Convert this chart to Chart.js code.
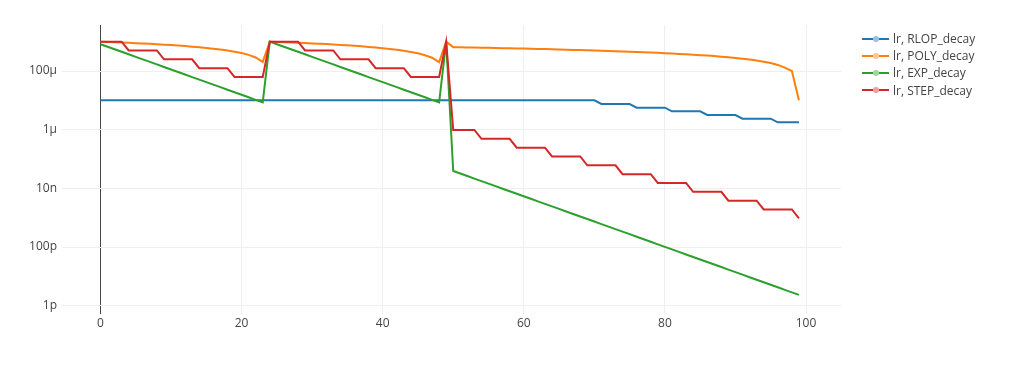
<!DOCTYPE html>
<html>
<head>
<meta charset="utf-8">
<title>Learning rate schedules</title>
<script src="https://cdn.jsdelivr.net/npm/chart.js@4.4.1/dist/chart.umd.min.js"></script>
<style>
  html, body { margin: 0; padding: 0; background: #fff; }
  #wrap { position: relative; width: 1024px; height: 368px; }
  #legend { position: absolute; left: 0; top: 0; font: 12px "Open Sans", sans-serif; color: #444; }
  .legend-item { position: absolute; left: 862px; height: 17px; line-height: 17px; white-space: nowrap; }
  .legend-line { position: absolute; left: 0; top: 7.5px; width: 27px; height: 2px; }
  .legend-dot { position: absolute; left: 10.5px; top: 5.5px; width: 6px; height: 6px; border-radius: 50%; background: #fff; }
  .legend-dot span { display: block; width: 6px; height: 6px; border-radius: 50%; opacity: 0.45; }
  .legend-text { position: absolute; left: 31px; top: 0; }
</style>
</head>
<body>
<div id="wrap">
  <canvas id="lr-chart" width="1024" height="368"></canvas>
  <div id="legend"></div>
</div>
<script>
// Training steps (x axis)
const steps = [
  0, 1, 2, 3, 4, 5, 6, 7, 8, 9,
  10, 11, 12, 13, 14, 15, 16, 17, 18, 19,
  20, 21, 22, 23, 24, 25, 26, 27, 28, 29,
  30, 31, 32, 33, 34, 35, 36, 37, 38, 39,
  40, 41, 42, 43, 44, 45, 46, 47, 48, 49,
  50, 51, 52, 53, 54, 55, 56, 57, 58, 59,
  60, 61, 62, 63, 64, 65, 66, 67, 68, 69,
  70, 71, 72, 73, 74, 75, 76, 77, 78, 79,
  80, 81, 82, 83, 84, 85, 86, 87, 88, 89,
  90, 91, 92, 93, 94, 95, 96, 97, 98, 99,
];

// Learning rate, one value per step
const rlopDecay = [
  1e-5, 1e-5, 1e-5, 1e-5, 1e-5, 1e-5, 1e-5, 1e-5, 1e-5, 1e-5,
  1e-5, 1e-5, 1e-5, 1e-5, 1e-5, 1e-5, 1e-5, 1e-5, 1e-5, 1e-5,
  1e-5, 1e-5, 1e-5, 1e-5, 1e-5, 1e-5, 1e-5, 1e-5, 1e-5, 1e-5,
  1e-5, 1e-5, 1e-5, 1e-5, 1e-5, 1e-5, 1e-5, 1e-5, 1e-5, 1e-5,
  1e-5, 1e-5, 1e-5, 1e-5, 1e-5, 1e-5, 1e-5, 1e-5, 1e-5, 1e-5,
  1e-5, 1e-5, 1e-5, 1e-5, 1e-5, 1e-5, 1e-5, 1e-5, 1e-5, 1e-5,
  1e-5, 1e-5, 1e-5, 1e-5, 1e-5, 1e-5, 1e-5, 1e-5, 1e-5, 1e-5,
  1e-5, 7.5e-6, 7.5e-6, 7.5e-6, 7.5e-6, 7.5e-6, 5.63e-6, 5.63e-6, 5.63e-6, 5.63e-6,
  5.63e-6, 4.22e-6, 4.22e-6, 4.22e-6, 4.22e-6, 4.22e-6, 3.16e-6, 3.16e-6, 3.16e-6, 3.16e-6,
  3.16e-6, 2.37e-6, 2.37e-6, 2.37e-6, 2.37e-6, 2.37e-6, 1.78e-6, 1.78e-6, 1.78e-6, 1.78e-6,
];

const polyDecay = [
  1.0e-3, 9.79e-4, 9.57e-4, 9.35e-4, 9.13e-4, 8.90e-4, 8.66e-4, 8.42e-4, 8.16e-4, 7.91e-4,
  7.64e-4, 7.36e-4, 7.07e-4, 6.77e-4, 6.45e-4, 6.12e-4, 5.77e-4, 5.40e-4, 5.00e-4, 4.56e-4,
  4.08e-4, 3.54e-4, 2.89e-4, 2.04e-4, 1.0e-3, 9.80e-4, 9.59e-4, 9.38e-4, 9.17e-4, 8.94e-4,
  8.72e-4, 8.49e-4, 8.25e-4, 8.00e-4, 7.75e-4, 7.48e-4, 7.21e-4, 6.93e-4, 6.63e-4, 6.32e-4,
  6.00e-4, 5.66e-4, 5.29e-4, 4.90e-4, 4.47e-4, 4.00e-4, 3.46e-4, 2.83e-4, 2.00e-4, 1.0e-3,
  6.50e-4, 6.43e-4, 6.37e-4, 6.30e-4, 6.23e-4, 6.16e-4, 6.09e-4, 6.02e-4, 5.95e-4, 5.87e-4,
  5.80e-4, 5.72e-4, 5.65e-4, 5.57e-4, 5.49e-4, 5.41e-4, 5.33e-4, 5.25e-4, 5.17e-4, 5.09e-4,
  5.00e-4, 4.91e-4, 4.82e-4, 4.73e-4, 4.64e-4, 4.55e-4, 4.45e-4, 4.36e-4, 4.26e-4, 4.15e-4,
  4.05e-4, 3.94e-4, 3.83e-4, 3.71e-4, 3.60e-4, 3.47e-4, 3.35e-4, 3.22e-4, 3.08e-4, 2.94e-4,
  2.79e-4, 2.63e-4, 2.46e-4, 2.27e-4, 2.08e-4, 1.86e-4, 1.61e-4, 1.31e-4, 1.0e-4, 1.0e-5,
];

const expDecay = [
  8.20e-4, 6.72e-4, 5.51e-4, 4.52e-4, 3.71e-4, 3.04e-4, 2.49e-4, 2.04e-4, 1.68e-4, 1.37e-4,
  1.13e-4, 9.24e-5, 7.58e-5, 6.21e-5, 5.10e-5, 4.18e-5, 3.43e-5, 2.81e-5, 2.30e-5, 1.89e-5,
  1.55e-5, 1.27e-5, 1.04e-5, 8.54e-6, 1.0e-3, 8.20e-4, 6.72e-4, 5.51e-4, 4.52e-4, 3.71e-4,
  3.04e-4, 2.49e-4, 2.04e-4, 1.68e-4, 1.37e-4, 1.13e-4, 9.24e-5, 7.58e-5, 6.21e-5, 5.10e-5,
  4.18e-5, 3.43e-5, 2.81e-5, 2.30e-5, 1.89e-5, 1.55e-5, 1.27e-5, 1.04e-5, 8.54e-6, 1.0e-3,
  3.90e-8, 3.20e-8, 2.62e-8, 2.15e-8, 1.76e-8, 1.45e-8, 1.19e-8, 9.72e-9, 7.97e-9, 6.54e-9,
  5.36e-9, 4.40e-9, 3.60e-9, 2.95e-9, 2.42e-9, 1.99e-9, 1.63e-9, 1.34e-9, 1.10e-9, 8.99e-10,
  7.37e-10, 6.05e-10, 4.96e-10, 4.07e-10, 3.33e-10, 2.74e-10, 2.24e-10, 1.84e-10, 1.51e-10, 1.23e-10,
  1.01e-10, 8.30e-11, 6.81e-11, 5.58e-11, 4.58e-11, 3.75e-11, 3.08e-11, 2.52e-11, 2.07e-11, 1.70e-11,
  1.39e-11, 1.14e-11, 9.35e-12, 7.67e-12, 6.29e-12, 5.16e-12, 4.23e-12, 3.47e-12, 2.84e-12, 2.33e-12,
];

const stepDecay = [
  1e-3, 1e-3, 1e-3, 1e-3, 5e-4, 5e-4, 5e-4, 5e-4, 5e-4, 2.5e-4,
  2.5e-4, 2.5e-4, 2.5e-4, 2.5e-4, 1.25e-4, 1.25e-4, 1.25e-4, 1.25e-4, 1.25e-4, 6.25e-5,
  6.25e-5, 6.25e-5, 6.25e-5, 6.25e-5, 1e-3, 1e-3, 1e-3, 1e-3, 1e-3, 5e-4,
  5e-4, 5e-4, 5e-4, 5e-4, 2.5e-4, 2.5e-4, 2.5e-4, 2.5e-4, 2.5e-4, 1.25e-4,
  1.25e-4, 1.25e-4, 1.25e-4, 1.25e-4, 6.25e-5, 6.25e-5, 6.25e-5, 6.25e-5, 6.25e-5, 1e-3,
  9.77e-7, 9.77e-7, 9.77e-7, 9.77e-7, 4.88e-7, 4.88e-7, 4.88e-7, 4.88e-7, 4.88e-7, 2.44e-7,
  2.44e-7, 2.44e-7, 2.44e-7, 2.44e-7, 1.22e-7, 1.22e-7, 1.22e-7, 1.22e-7, 1.22e-7, 6.10e-8,
  6.10e-8, 6.10e-8, 6.10e-8, 6.10e-8, 3.05e-8, 3.05e-8, 3.05e-8, 3.05e-8, 3.05e-8, 1.53e-8,
  1.53e-8, 1.53e-8, 1.53e-8, 1.53e-8, 7.63e-9, 7.63e-9, 7.63e-9, 7.63e-9, 7.63e-9, 3.81e-9,
  3.81e-9, 3.81e-9, 3.81e-9, 3.81e-9, 1.91e-9, 1.91e-9, 1.91e-9, 1.91e-9, 1.91e-9, 9.54e-10,
];

const seriesNames = ["lr, RLOP_decay", "lr, POLY_decay", "lr, EXP_decay", "lr, STEP_decay"];
const seriesValues = [rlopDecay, polyDecay, expDecay, stepDecay];
const seriesColors = ["#1f77b4", "#ff7f0e", "#2ca02c", "#d62728"];

// Axis ticks
const xTicks = [0, 20, 40, 60, 80, 100];
const yTicks = [1e-12, 1e-10, 1e-8, 1e-6, 1e-4];
const yTickLabels = ["1p", "100p", "10n", "1μ", "100μ"];

const FONT = { family: "'Open Sans', sans-serif", size: 12 };

function buildLegend() {
  const legend = document.getElementById("legend");
  seriesNames.forEach((name, i) => {
    const item = document.createElement("div");
    item.className = "legend-item";
    item.style.top = 30 + i * 17.2 + "px";
    item.innerHTML =
      '<div class="legend-line" style="background:' + seriesColors[i] + '"></div>' +
      '<div class="legend-dot"><span style="background:' + seriesColors[i] + '"></span></div>' +
      '<div class="legend-text"></div>';
    item.querySelector(".legend-text").textContent = name;
    legend.appendChild(item);
  });
}

function initLrChart() {
  const ctx = document.getElementById("lr-chart");
  if (!ctx) return;

  // Later traces are drawn on top, as in the reference
  const datasets = seriesNames.map((name, i) => ({
    label: name,
    data: seriesValues[i],
    borderColor: seriesColors[i],
    backgroundColor: seriesColors[i],
    borderWidth: 2,
    pointRadius: 0,
    tension: 0,
    fill: false,
    order: seriesNames.length - i,
  }));

  new Chart(ctx, {
    type: "line",
    data: { labels: steps, datasets: datasets },
    options: {
      responsive: false,
      animation: false,
      layout: { padding: { left: 0, top: 25, right: 183, bottom: 24 } },
      plugins: {
        legend: { display: false },
        tooltip: { enabled: false },
      },
      scales: {
        x: {
          type: "linear",
          min: -5.45,
          max: 104.96,
          afterBuildTicks: (scale) => {
            scale.ticks = xTicks.map((v) => ({ value: v }));
          },
          afterFit: (scale) => {
            scale.height = 30;
          },
          grid: {
            color: (c) => (c.tick && c.tick.value === 0 ? "#444" : "#eee"),
            drawTicks: false,
          },
          border: { display: false },
          ticks: {
            color: "#444",
            font: FONT,
            padding: 2,
            maxRotation: 0,
            autoSkip: false,
          },
        },
        y: {
          type: "logarithmic",
          min: 5.2e-13,
          max: 3.7e-3,
          afterBuildTicks: (scale) => {
            scale.ticks = yTicks.map((v) => ({ value: v }));
          },
          afterFit: (scale) => {
            scale.width = 62;
          },
          grid: { color: "#eee", drawTicks: false },
          border: { display: false },
          ticks: {
            color: "#444",
            font: FONT,
            padding: 5,
            autoSkip: false,
            callback: function (value, index) {
              return yTickLabels[index];
            },
          },
        },
      },
    },
  });
}

buildLegend();
initLrChart();
</script>
</body>
</html>
